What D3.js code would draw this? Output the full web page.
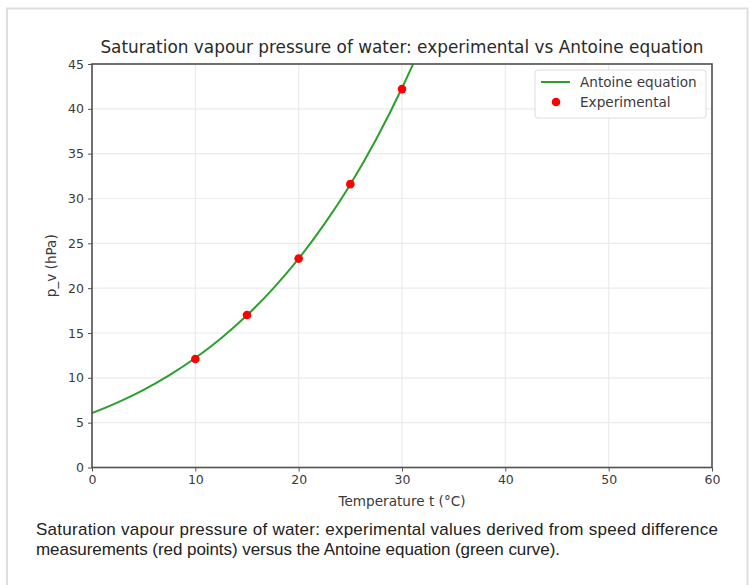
<!DOCTYPE html>
<html>
<head>
<meta charset="utf-8">
<script src="https://cdn.jsdelivr.net/npm/d3@7/dist/d3.min.js"></script>
<style>
  html, body { margin: 0; padding: 0; background: #fff; }
  svg { display: block; }
</style>
</head>
<body>
<svg id="chart" width="750" height="585"></svg>
<script>
// Antoine-equation curve, temperature (°C) vs pressure (hPa)
const curveT = [0, 2.5, 5, 7.5, 10, 12.5, 15, 17.5, 20, 22.5, 25, 27.5, 30, 31.1];
const curveP = [6.06, 7.26, 8.66, 10.30, 12.21, 14.42, 16.97, 19.92, 23.29, 27.17, 31.57, 36.61, 42.32, 45.06];

// Experimental points from speed difference measurements
const expT = [10, 15, 20, 25, 30];
const expP = [12.1, 17.0, 23.3, 31.6, 42.2];

// Axis ticks
const xTicks = [0, 10, 20, 30, 40, 50, 60];
const yTicks = [0, 5, 10, 15, 20, 25, 30, 35, 40, 45];

const titleText = "Saturation vapour pressure of water: experimental vs Antoine equation";
const xLabel = "Temperature t (°C)";
const yLabel = "p_v (hPa)";
const captionLines = [
  "Saturation vapour pressure of water: experimental values derived from speed difference",
  "measurements (red points) versus the Antoine equation (green curve)."
];
const captionWidths = [682, 524];
const legendLabels = ["Antoine equation", "Experimental"];

const svg = d3.select("#chart");
const plot = { left: 92, right: 712, top: 64, bottom: 467.5 };

// Page frame
svg.append("path")
  .attr("d", `M7,585 L7,8.5 L747.5,8.5 L747.5,585`)
  .attr("fill", "none").attr("stroke", "#dedede").attr("stroke-width", 2);

const x = d3.scaleLinear().domain([0, 60]).range([plot.left, plot.right]);
const y = d3.scaleLinear().domain([0, 45]).range([plot.bottom, plot.top]);

const font = "'DejaVu Sans', sans-serif";
const tickColor = "#3a3a3a";
const labelSize = 13.6;

// Grid
const grid = svg.append("g");
grid.selectAll("line.gx").data(xTicks).join("line")
  .attr("x1", d => x(d)).attr("x2", d => x(d))
  .attr("y1", plot.top).attr("y2", plot.bottom)
  .attr("stroke", "#ebebeb").attr("stroke-width", 1.2);
grid.selectAll("line.gy").data(yTicks).join("line")
  .attr("x1", plot.left).attr("x2", plot.right)
  .attr("y1", d => y(d)).attr("y2", d => y(d))
  .attr("stroke", "#ebebeb").attr("stroke-width", 1.2);

// Clip
svg.append("clipPath").attr("id", "clip").append("rect")
  .attr("x", plot.left).attr("y", plot.top)
  .attr("width", plot.right - plot.left).attr("height", plot.bottom - plot.top);

// Curve
const line = d3.line()
  .x((d, i) => x(curveT[i]))
  .y((d, i) => y(curveP[i]))
  .curve(d3.curveMonotoneX);
svg.append("path")
  .attr("clip-path", "url(#clip)")
  .attr("d", line(curveT))
  .attr("fill", "none").attr("stroke", "#2ca02c").attr("stroke-width", 2);

// Points
svg.append("g").selectAll("circle").data(expT).join("circle")
  .attr("cx", (d) => x(d))
  .attr("cy", (d, i) => y(expP[i]))
  .attr("r", 4.3).attr("fill", "#ff0000");

// Axes
const xAxis = d3.axisBottom(x).tickValues(xTicks).tickSize(4).tickPadding(4);
const yAxis = d3.axisLeft(y).tickValues(yTicks).tickSize(4).tickPadding(4);

const gx = svg.append("g").attr("transform", `translate(0,${plot.bottom})`).call(xAxis);
const gy = svg.append("g").attr("transform", `translate(${plot.left},0)`).call(yAxis);
[gx, gy].forEach(g => {
  g.select(".domain").remove();
  g.selectAll(".tick line").attr("stroke", "#555").attr("stroke-width", 1);
  g.selectAll(".tick text").attr("fill", tickColor).attr("font-family", font).attr("font-size", 12.5);
});

// Frame around plot
svg.append("rect")
  .attr("x", plot.left).attr("y", plot.top)
  .attr("width", plot.right - plot.left).attr("height", plot.bottom - plot.top)
  .attr("fill", "none").attr("stroke", "#505050").attr("stroke-width", 1.6);

// Title
svg.append("text")
  .attr("x", (plot.left + plot.right) / 2).attr("y", 53)
  .attr("text-anchor", "middle")
  .attr("font-family", font).attr("font-size", 16.9).attr("fill", "#2a2a2a")
  .text(titleText);

// Axis labels
svg.append("text")
  .attr("x", (plot.left + plot.right) / 2).attr("y", 506)
  .attr("text-anchor", "middle")
  .attr("font-family", font).attr("font-size", labelSize).attr("fill", tickColor)
  .text(xLabel);
svg.append("text")
  .attr("transform", `translate(56,${(plot.top + plot.bottom) / 2}) rotate(-90)`)
  .attr("text-anchor", "middle")
  .attr("font-family", font).attr("font-size", labelSize).attr("fill", tickColor)
  .text(yLabel);

// Legend
const lg = svg.append("g");
lg.append("rect")
  .attr("x", 535).attr("y", 70).attr("width", 171).attr("height", 48).attr("rx", 3)
  .attr("fill", "#fff").attr("fill-opacity", 0.85)
  .attr("stroke", "#ddd").attr("stroke-width", 1);
lg.append("line")
  .attr("x1", 541).attr("x2", 570).attr("y1", 82).attr("y2", 82)
  .attr("stroke", "#2ca02c").attr("stroke-width", 2);
lg.append("circle").attr("cx", 556).attr("cy", 102).attr("r", 4.3).attr("fill", "#ff0000");
lg.selectAll("text").data(legendLabels).join("text")
  .attr("x", 580).attr("y", (d, i) => 87 + i * 20)
  .attr("font-family", font).attr("font-size", labelSize).attr("fill", tickColor)
  .text(d => d);

// Caption
svg.append("g").selectAll("text").data(captionLines).join("text")
  .attr("x", 36).attr("y", (d, i) => 535 + i * 20)
  .attr("textLength", (d, i) => captionWidths[i])
  .attr("lengthAdjust", "spacing")
  .attr("font-family", "'Liberation Sans', Arial, sans-serif")
  .attr("font-size", 17).attr("fill", "#222")
  .text(d => d);
</script>
</body>
</html>
